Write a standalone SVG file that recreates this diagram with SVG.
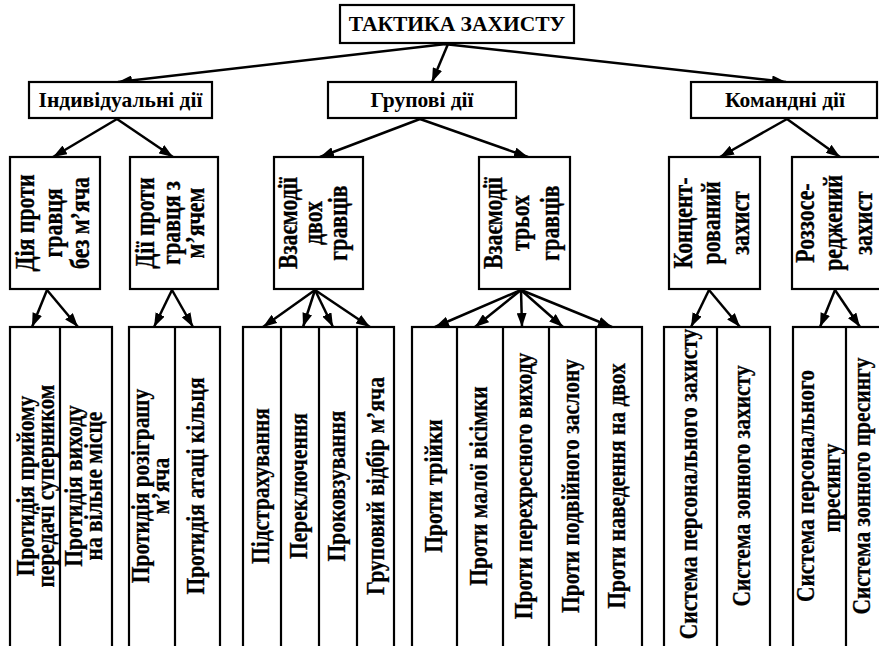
<svg xmlns="http://www.w3.org/2000/svg" width="879" height="646" viewBox="0 0 879 646" font-family="'Liberation Serif', 'Times New Roman', serif" font-weight="bold">
  <style>
    .box { fill: #fff; stroke: #000; stroke-width: 2.2; }
    .cell { fill: none; stroke: #000; stroke-width: 2.2; }
    text { text-anchor: middle; fill: #000; }
    .h { font-size: 21.5px; }
    .v2 { font-size: 27px; stroke: #000; stroke-width: 0.35; }
    .v3 { font-size: 25px; stroke: #000; stroke-width: 0.3; }
    .link { stroke: #000; stroke-width: 2.5; fill: none; marker-end: url(#arrow); }
  </style>
  <defs>
    <marker id="arrow" markerUnits="userSpaceOnUse" markerWidth="14" markerHeight="10" refX="14" refY="5" orient="auto">
      <path d="M0,0 L14,5 L0,10 z" fill="#000"/>
    </marker>
  </defs>
  <rect width="879" height="646" fill="#fff"/>

  <!-- connectors -->
  <g id="connectors">
    <line class="link" x1="446" y1="44" x2="118" y2="82"/>
    <line class="link" x1="448" y1="44" x2="432" y2="82"/>
    <line class="link" x1="444" y1="44" x2="786" y2="82"/>

    <line class="link" x1="117" y1="119" x2="53" y2="157"/>
    <line class="link" x1="117" y1="119" x2="173" y2="157"/>
    <line class="link" x1="420" y1="119" x2="320" y2="157"/>
    <line class="link" x1="420" y1="119" x2="528" y2="157"/>
    <line class="link" x1="787" y1="119" x2="720" y2="157"/>
    <line class="link" x1="787" y1="119" x2="840" y2="157"/>

    <line class="link" x1="47" y1="290" x2="32" y2="327"/>
    <line class="link" x1="47" y1="290" x2="78" y2="327"/>
    <line class="link" x1="172" y1="290" x2="154" y2="327"/>
    <line class="link" x1="172" y1="290" x2="193" y2="327"/>
    <line class="link" x1="315" y1="290" x2="263" y2="327"/>
    <line class="link" x1="315" y1="290" x2="303" y2="327"/>
    <line class="link" x1="315" y1="290" x2="333" y2="327"/>
    <line class="link" x1="315" y1="290" x2="370" y2="327"/>
    <line class="link" x1="521" y1="290" x2="435" y2="327"/>
    <line class="link" x1="521" y1="290" x2="475" y2="327"/>
    <line class="link" x1="521" y1="290" x2="522" y2="327"/>
    <line class="link" x1="521" y1="290" x2="563" y2="327"/>
    <line class="link" x1="521" y1="290" x2="612" y2="327"/>
    <line class="link" x1="709" y1="290" x2="691" y2="327"/>
    <line class="link" x1="709" y1="290" x2="740" y2="327"/>
    <line class="link" x1="835" y1="290" x2="820" y2="327"/>
    <line class="link" x1="835" y1="290" x2="860" y2="327"/>
  </g>

  <!-- root -->
  <g id="root">
    <rect class="box" x="340" y="5" width="234" height="38"/>
    <text class="h" x="457" y="31">ТАКТИКА ЗАХИСТУ</text>
  </g>

  <!-- first level -->
  <g id="individual">
    <rect class="box" x="29" y="82" width="183" height="36"/>
    <text class="h" x="120.5" y="107">Індивідуальні дії</text>
  </g>
  <g id="group">
    <rect class="box" x="328" y="82" width="188" height="36"/>
    <text class="h" x="422" y="107">Групові дії</text>
  </g>
  <g id="team">
    <rect class="box" x="691" y="82" width="186" height="36"/>
    <text class="h" x="785" y="107">Командні дії</text>
  </g>

  <!-- second level: vertical captions -->
  <g id="no-ball">
    <rect class="box" x="10" y="157" width="90" height="132"/>
    <text class="v2" transform="translate(34,223) rotate(-90) scale(0.81,1)">Дія проти</text>
    <text class="v2" transform="translate(62,223) rotate(-90) scale(0.81,1)">гравця</text>
    <text class="v2" transform="translate(89,223) rotate(-90) scale(0.81,1)">без м’яча</text>
  </g>
  <g id="with-ball">
    <rect class="box" x="130" y="157" width="88" height="132"/>
    <text class="v2" transform="translate(154,223) rotate(-90) scale(0.81,1)">Дії проти</text>
    <text class="v2" transform="translate(180,223) rotate(-90) scale(0.81,1)">гравця з</text>
    <text class="v2" transform="translate(204,223) rotate(-90) scale(0.81,1)">м’ячем</text>
  </g>
  <g id="two-players">
    <rect class="box" x="274" y="157" width="89" height="132"/>
    <text class="v2" transform="translate(297,223) rotate(-90) scale(0.81,1)">Взаємодії</text>
    <text class="v2" transform="translate(322,223) rotate(-90) scale(0.81,1)">двох</text>
    <text class="v2" transform="translate(347,223) rotate(-90) scale(0.81,1)">гравців</text>
  </g>
  <g id="three-players">
    <rect class="box" x="479" y="157" width="91" height="132"/>
    <text class="v2" transform="translate(502,223) rotate(-90) scale(0.81,1)">Взаємодії</text>
    <text class="v2" transform="translate(529,223) rotate(-90) scale(0.81,1)">трьох</text>
    <text class="v2" transform="translate(559,223) rotate(-90) scale(0.81,1)">гравців</text>
  </g>
  <g id="concentrated">
    <rect class="box" x="669" y="157" width="91" height="132"/>
    <text class="v2" transform="translate(692,223) rotate(-90) scale(0.81,1)">Концент-</text>
    <text class="v2" transform="translate(720,223) rotate(-90) scale(0.81,1)">рований</text>
    <text class="v2" transform="translate(749,223) rotate(-90) scale(0.81,1)">захист</text>
  </g>
  <g id="dispersed">
    <rect class="box" x="792" y="157" width="94" height="132"/>
    <text class="v2" transform="translate(814,223) rotate(-90) scale(0.81,1)">Роззосе-</text>
    <text class="v2" transform="translate(842,223) rotate(-90) scale(0.81,1)">реджений</text>
    <text class="v2" transform="translate(872,223) rotate(-90) scale(0.81,1)">захист</text>
  </g>

  <!-- third level: columns of techniques -->
  <g id="no-ball-actions">
    <rect class="cell" x="10" y="327" width="102" height="330"/>
    <line class="cell" x1="60" y1="327" x2="60" y2="657"/>
    <text class="v3" transform="translate(34,486) rotate(-90) scale(0.86,1)">Протидія прийому</text>
    <text class="v3" transform="translate(54,486) rotate(-90) scale(0.86,1)">передачі суперником</text>
    <text class="v3" transform="translate(82,486) rotate(-90) scale(0.86,1)">Протидія виходу</text>
    <text class="v3" transform="translate(102,486) rotate(-90) scale(0.86,1)">на вільне місце</text>
  </g>
  <g id="with-ball-actions">
    <rect class="cell" x="129" y="327" width="91" height="330"/>
    <line class="cell" x1="175" y1="327" x2="175" y2="657"/>
    <text class="v3" transform="translate(149,486) rotate(-90) scale(0.86,1)">Протидія розіграшу</text>
    <text class="v3" transform="translate(169,486) rotate(-90) scale(0.86,1)">м’яча</text>
    <text class="v3" transform="translate(204,486) rotate(-90) scale(0.86,1)">Протидія атаці кільця</text>
  </g>
  <g id="two-players-actions">
    <rect class="cell" x="243" y="327" width="151" height="330"/>
    <line class="cell" x1="281" y1="327" x2="281" y2="657"/>
    <line class="cell" x1="319" y1="327" x2="319" y2="657"/>
    <line class="cell" x1="357" y1="327" x2="357" y2="657"/>
    <text class="v3" transform="translate(269,486) rotate(-90) scale(0.86,1)">Підстрахування</text>
    <text class="v3" transform="translate(307,486) rotate(-90) scale(0.86,1)">Переключення</text>
    <text class="v3" transform="translate(345,486) rotate(-90) scale(0.86,1)">Проковзування</text>
    <text class="v3" transform="translate(384,486) rotate(-90) scale(0.86,1)">Груповий відбір м’яча</text>
  </g>
  <g id="three-players-actions">
    <rect class="cell" x="412" y="327" width="230" height="330"/>
    <line class="cell" x1="457" y1="327" x2="457" y2="657"/>
    <line class="cell" x1="503" y1="327" x2="503" y2="657"/>
    <line class="cell" x1="549" y1="327" x2="549" y2="657"/>
    <line class="cell" x1="596" y1="327" x2="596" y2="657"/>
    <text class="v3" transform="translate(442,486) rotate(-90) scale(0.86,1)">Проти трійки</text>
    <text class="v3" transform="translate(487,486) rotate(-90) scale(0.86,1)">Проти малої вісімки</text>
    <text class="v3" transform="translate(532,486) rotate(-90) scale(0.86,1)">Проти перехресного виходу</text>
    <text class="v3" transform="translate(579,486) rotate(-90) scale(0.86,1)">Проти подвійного заслону</text>
    <text class="v3" transform="translate(625,486) rotate(-90) scale(0.86,1)">Проти наведення на двох</text>
  </g>
  <g id="concentrated-systems">
    <rect class="cell" x="664" y="327" width="106" height="330"/>
    <line class="cell" x1="717" y1="327" x2="717" y2="657"/>
    <text class="v3" transform="translate(697,484) rotate(-90) scale(0.86,1)">Система персонального захисту</text>
    <text class="v3" transform="translate(750,486) rotate(-90) scale(0.86,1)">Система зонного захисту</text>
  </g>
  <g id="dispersed-systems">
    <rect class="cell" x="793" y="327" width="107" height="330"/>
    <line class="cell" x1="846" y1="327" x2="846" y2="657"/>
    <text class="v3" transform="translate(814,486) rotate(-90) scale(0.86,1)">Система персонального</text>
    <text class="v3" transform="translate(840,488) rotate(-90) scale(0.86,1)">пресингу</text>
    <text class="v3" transform="translate(870,486) rotate(-90) scale(0.86,1)">Система зонного пресингу</text>
  </g>
</svg>
